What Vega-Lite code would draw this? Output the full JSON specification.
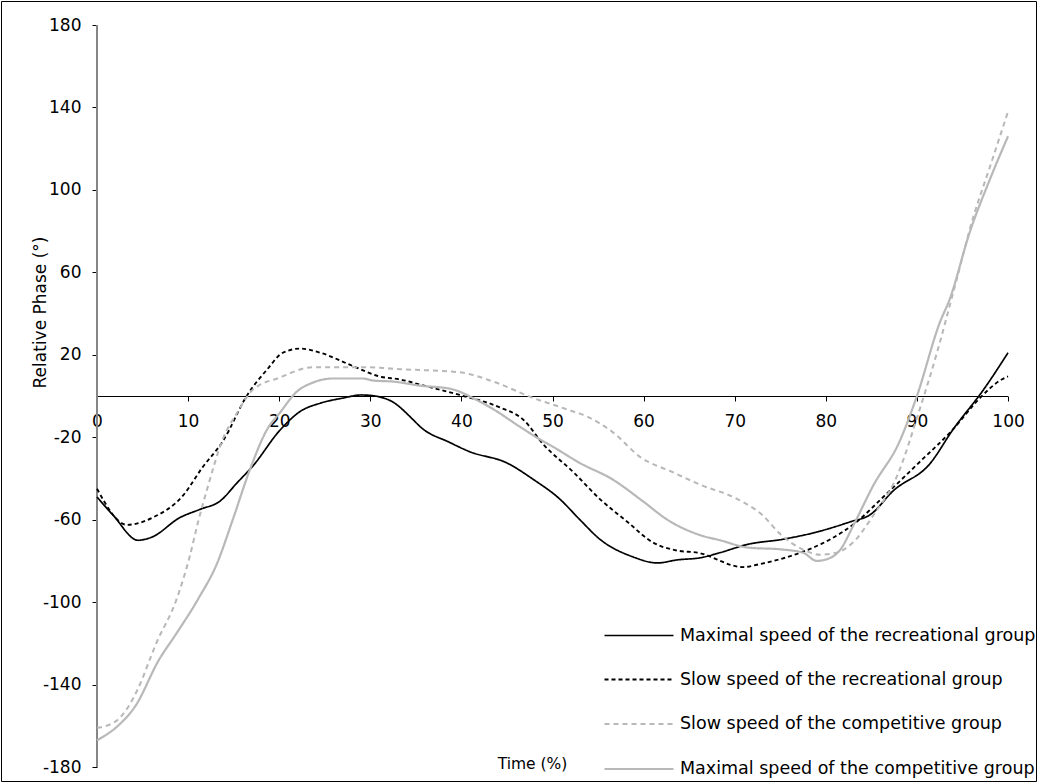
{
  "$schema": "https://vega.github.io/schema/vega-lite/v6.json",
  "width": 1035,
  "height": 780,
  "autosize": {"type": "none"},
  "padding": 1,
  "background": "white",
  "config": {
    "view": {"stroke": "black", "strokeWidth": 1},
    "font": "DejaVu Sans",
    "axis": {"labelFont": "DejaVu Sans", "titleFont": "DejaVu Sans", "labelColor": "black", "titleColor": "black", "titleFontWeight": "normal", "grid": false},
    "legend": {"labelFont": "DejaVu Sans"}
  },
  "datasets": {
    "curves": [
      {"t": 0, "v": -49, "s": "Maximal speed of the recreational group"},
      {"t": 1.8, "v": -58, "s": "Maximal speed of the recreational group"},
      {"t": 4.5, "v": -70, "s": "Maximal speed of the recreational group"},
      {"t": 6, "v": -68.5, "s": "Maximal speed of the recreational group"},
      {"t": 9.1, "v": -59, "s": "Maximal speed of the recreational group"},
      {"t": 11.3, "v": -55, "s": "Maximal speed of the recreational group"},
      {"t": 13.5, "v": -51, "s": "Maximal speed of the recreational group"},
      {"t": 15.4, "v": -42, "s": "Maximal speed of the recreational group"},
      {"t": 17.1, "v": -34, "s": "Maximal speed of the recreational group"},
      {"t": 20.1, "v": -16.5, "s": "Maximal speed of the recreational group"},
      {"t": 22.3, "v": -7.5, "s": "Maximal speed of the recreational group"},
      {"t": 24.5, "v": -3.5, "s": "Maximal speed of the recreational group"},
      {"t": 27, "v": -1, "s": "Maximal speed of the recreational group"},
      {"t": 29, "v": 0.5, "s": "Maximal speed of the recreational group"},
      {"t": 30.5, "v": 0, "s": "Maximal speed of the recreational group"},
      {"t": 32.5, "v": -3, "s": "Maximal speed of the recreational group"},
      {"t": 34.7, "v": -11.5, "s": "Maximal speed of the recreational group"},
      {"t": 35.5, "v": -15, "s": "Maximal speed of the recreational group"},
      {"t": 38.7, "v": -22.5, "s": "Maximal speed of the recreational group"},
      {"t": 40.9, "v": -27, "s": "Maximal speed of the recreational group"},
      {"t": 45, "v": -32.5, "s": "Maximal speed of the recreational group"},
      {"t": 47.9, "v": -40.5, "s": "Maximal speed of the recreational group"},
      {"t": 50.8, "v": -50, "s": "Maximal speed of the recreational group"},
      {"t": 53, "v": -60, "s": "Maximal speed of the recreational group"},
      {"t": 55.2, "v": -69.5, "s": "Maximal speed of the recreational group"},
      {"t": 58.8, "v": -78, "s": "Maximal speed of the recreational group"},
      {"t": 61.5, "v": -81, "s": "Maximal speed of the recreational group"},
      {"t": 63.7, "v": -79.5, "s": "Maximal speed of the recreational group"},
      {"t": 66.2, "v": -78.5, "s": "Maximal speed of the recreational group"},
      {"t": 68.4, "v": -76, "s": "Maximal speed of the recreational group"},
      {"t": 71.4, "v": -72, "s": "Maximal speed of the recreational group"},
      {"t": 75.3, "v": -69.5, "s": "Maximal speed of the recreational group"},
      {"t": 79, "v": -66, "s": "Maximal speed of the recreational group"},
      {"t": 82.7, "v": -61, "s": "Maximal speed of the recreational group"},
      {"t": 84.9, "v": -57.5, "s": "Maximal speed of the recreational group"},
      {"t": 87.4, "v": -46, "s": "Maximal speed of the recreational group"},
      {"t": 91.4, "v": -33, "s": "Maximal speed of the recreational group"},
      {"t": 94, "v": -16, "s": "Maximal speed of the recreational group"},
      {"t": 97.3, "v": 3, "s": "Maximal speed of the recreational group"},
      {"t": 100, "v": 21, "s": "Maximal speed of the recreational group"},

      {"t": 0, "v": -45, "s": "Slow  speed of the recreational group"},
      {"t": 3.3, "v": -62.5, "s": "Slow  speed of the recreational group"},
      {"t": 6.1, "v": -59, "s": "Slow  speed of the recreational group"},
      {"t": 9.4, "v": -48.5, "s": "Slow  speed of the recreational group"},
      {"t": 11.6, "v": -34.5, "s": "Slow  speed of the recreational group"},
      {"t": 13.8, "v": -22, "s": "Slow  speed of the recreational group"},
      {"t": 16.5, "v": 0.5, "s": "Slow  speed of the recreational group"},
      {"t": 18.7, "v": 13, "s": "Slow  speed of the recreational group"},
      {"t": 20.4, "v": 21, "s": "Slow  speed of the recreational group"},
      {"t": 22.3, "v": 23, "s": "Slow  speed of the recreational group"},
      {"t": 24.5, "v": 21, "s": "Slow  speed of the recreational group"},
      {"t": 28.1, "v": 14.5, "s": "Slow  speed of the recreational group"},
      {"t": 31, "v": 9.5, "s": "Slow  speed of the recreational group"},
      {"t": 33.3, "v": 8, "s": "Slow  speed of the recreational group"},
      {"t": 35.5, "v": 5.5, "s": "Slow  speed of the recreational group"},
      {"t": 39.8, "v": 0.5, "s": "Slow  speed of the recreational group"},
      {"t": 44.2, "v": -5.5, "s": "Slow  speed of the recreational group"},
      {"t": 46.8, "v": -11.5, "s": "Slow  speed of the recreational group"},
      {"t": 49, "v": -23.5, "s": "Slow  speed of the recreational group"},
      {"t": 52.3, "v": -37, "s": "Slow  speed of the recreational group"},
      {"t": 55.2, "v": -50, "s": "Slow  speed of the recreational group"},
      {"t": 58.2, "v": -61, "s": "Slow  speed of the recreational group"},
      {"t": 61, "v": -71, "s": "Slow  speed of the recreational group"},
      {"t": 63.7, "v": -75, "s": "Slow  speed of the recreational group"},
      {"t": 65.9, "v": -76, "s": "Slow  speed of the recreational group"},
      {"t": 70.9, "v": -83, "s": "Slow  speed of the recreational group"},
      {"t": 72.8, "v": -81.5, "s": "Slow  speed of the recreational group"},
      {"t": 77.2, "v": -76, "s": "Slow  speed of the recreational group"},
      {"t": 80.5, "v": -69.5, "s": "Slow  speed of the recreational group"},
      {"t": 83.4, "v": -61, "s": "Slow  speed of the recreational group"},
      {"t": 86.3, "v": -49, "s": "Slow  speed of the recreational group"},
      {"t": 90.3, "v": -32, "s": "Slow  speed of the recreational group"},
      {"t": 94, "v": -16, "s": "Slow  speed of the recreational group"},
      {"t": 96.9, "v": -1, "s": "Slow  speed of the recreational group"},
      {"t": 99.3, "v": 8, "s": "Slow  speed of the recreational group"},
      {"t": 100, "v": 9.5, "s": "Slow  speed of the recreational group"},

      {"t": 0, "v": -161, "s": "Slow speed of the competitive group"},
      {"t": 2, "v": -158, "s": "Slow speed of the competitive group"},
      {"t": 3.4, "v": -151, "s": "Slow speed of the competitive group"},
      {"t": 4.5, "v": -142, "s": "Slow speed of the competitive group"},
      {"t": 6.5, "v": -120, "s": "Slow speed of the competitive group"},
      {"t": 8.7, "v": -99, "s": "Slow speed of the competitive group"},
      {"t": 10.2, "v": -77.5, "s": "Slow speed of the competitive group"},
      {"t": 11.1, "v": -61, "s": "Slow speed of the competitive group"},
      {"t": 12.1, "v": -45, "s": "Slow speed of the competitive group"},
      {"t": 13.8, "v": -21, "s": "Slow speed of the competitive group"},
      {"t": 15.4, "v": -8, "s": "Slow speed of the competitive group"},
      {"t": 17.1, "v": 3, "s": "Slow speed of the competitive group"},
      {"t": 20.1, "v": 9, "s": "Slow speed of the competitive group"},
      {"t": 23.7, "v": 14, "s": "Slow speed of the competitive group"},
      {"t": 29.2, "v": 14, "s": "Slow speed of the competitive group"},
      {"t": 33.3, "v": 13, "s": "Slow speed of the competitive group"},
      {"t": 39.8, "v": 11.5, "s": "Slow speed of the competitive group"},
      {"t": 43.5, "v": 7, "s": "Slow speed of the competitive group"},
      {"t": 47.9, "v": -1, "s": "Slow speed of the competitive group"},
      {"t": 51.6, "v": -6.5, "s": "Slow speed of the competitive group"},
      {"t": 53.8, "v": -10, "s": "Slow speed of the competitive group"},
      {"t": 56.6, "v": -17.5, "s": "Slow speed of the competitive group"},
      {"t": 59.6, "v": -29.5, "s": "Slow speed of the competitive group"},
      {"t": 63.2, "v": -37, "s": "Slow speed of the competitive group"},
      {"t": 66.2, "v": -43, "s": "Slow speed of the competitive group"},
      {"t": 70.3, "v": -50, "s": "Slow speed of the competitive group"},
      {"t": 73.1, "v": -58, "s": "Slow speed of the competitive group"},
      {"t": 75, "v": -67, "s": "Slow speed of the competitive group"},
      {"t": 77.5, "v": -74.5, "s": "Slow speed of the competitive group"},
      {"t": 79.4, "v": -77, "s": "Slow speed of the competitive group"},
      {"t": 81.2, "v": -76, "s": "Slow speed of the competitive group"},
      {"t": 83, "v": -71, "s": "Slow speed of the competitive group"},
      {"t": 85.2, "v": -58, "s": "Slow speed of the competitive group"},
      {"t": 87.8, "v": -39, "s": "Slow speed of the competitive group"},
      {"t": 90.3, "v": -6.5, "s": "Slow speed of the competitive group"},
      {"t": 92.2, "v": 21, "s": "Slow speed of the competitive group"},
      {"t": 94, "v": 50.5, "s": "Slow speed of the competitive group"},
      {"t": 96.2, "v": 87, "s": "Slow speed of the competitive group"},
      {"t": 98, "v": 111, "s": "Slow speed of the competitive group"},
      {"t": 100, "v": 138, "s": "Slow speed of the competitive group"},

      {"t": 0, "v": -167, "s": "Maximal speed of the competitive group"},
      {"t": 2.3, "v": -160, "s": "Maximal speed of the competitive group"},
      {"t": 4.2, "v": -150.5, "s": "Maximal speed of the competitive group"},
      {"t": 6.8, "v": -128, "s": "Maximal speed of the competitive group"},
      {"t": 8.6, "v": -116, "s": "Maximal speed of the competitive group"},
      {"t": 11.1, "v": -98.5, "s": "Maximal speed of the competitive group"},
      {"t": 13.2, "v": -81, "s": "Maximal speed of the competitive group"},
      {"t": 14.9, "v": -60, "s": "Maximal speed of the competitive group"},
      {"t": 16.8, "v": -35.5, "s": "Maximal speed of the competitive group"},
      {"t": 18.7, "v": -16, "s": "Maximal speed of the competitive group"},
      {"t": 20.1, "v": -8, "s": "Maximal speed of the competitive group"},
      {"t": 21.9, "v": 2, "s": "Maximal speed of the competitive group"},
      {"t": 23.7, "v": 6.5, "s": "Maximal speed of the competitive group"},
      {"t": 25.9, "v": 8.5, "s": "Maximal speed of the competitive group"},
      {"t": 29.2, "v": 8.5, "s": "Maximal speed of the competitive group"},
      {"t": 30.3, "v": 7.5, "s": "Maximal speed of the competitive group"},
      {"t": 32.5, "v": 7, "s": "Maximal speed of the competitive group"},
      {"t": 35.5, "v": 5, "s": "Maximal speed of the competitive group"},
      {"t": 38.8, "v": 3.5, "s": "Maximal speed of the competitive group"},
      {"t": 41.7, "v": -2, "s": "Maximal speed of the competitive group"},
      {"t": 43.9, "v": -7.5, "s": "Maximal speed of the competitive group"},
      {"t": 46.1, "v": -14, "s": "Maximal speed of the competitive group"},
      {"t": 48.6, "v": -21, "s": "Maximal speed of the competitive group"},
      {"t": 50, "v": -24.5, "s": "Maximal speed of the competitive group"},
      {"t": 53, "v": -32.5, "s": "Maximal speed of the competitive group"},
      {"t": 56.6, "v": -40.5, "s": "Maximal speed of the competitive group"},
      {"t": 59.9, "v": -51, "s": "Maximal speed of the competitive group"},
      {"t": 62.6, "v": -60, "s": "Maximal speed of the competitive group"},
      {"t": 66.2, "v": -67.5, "s": "Maximal speed of the competitive group"},
      {"t": 68.4, "v": -70, "s": "Maximal speed of the competitive group"},
      {"t": 71.4, "v": -73.5, "s": "Maximal speed of the competitive group"},
      {"t": 75.3, "v": -74.5, "s": "Maximal speed of the competitive group"},
      {"t": 77.5, "v": -76, "s": "Maximal speed of the competitive group"},
      {"t": 79, "v": -80, "s": "Maximal speed of the competitive group"},
      {"t": 80.5, "v": -78.5, "s": "Maximal speed of the competitive group"},
      {"t": 81.6, "v": -74.5, "s": "Maximal speed of the competitive group"},
      {"t": 83, "v": -63, "s": "Maximal speed of the competitive group"},
      {"t": 85.2, "v": -43.5, "s": "Maximal speed of the competitive group"},
      {"t": 88.1, "v": -22, "s": "Maximal speed of the competitive group"},
      {"t": 90, "v": 0, "s": "Maximal speed of the competitive group"},
      {"t": 92.5, "v": 35.5, "s": "Maximal speed of the competitive group"},
      {"t": 93.6, "v": 47, "s": "Maximal speed of the competitive group"},
      {"t": 95.8, "v": 79.5, "s": "Maximal speed of the competitive group"},
      {"t": 98, "v": 105, "s": "Maximal speed of the competitive group"},
      {"t": 100, "v": 126, "s": "Maximal speed of the competitive group"}
    ]
  },
  "layer": [
    {
      "data": {"values": [{"t0": 0, "t1": 100, "v": 0}]},
      "mark": {"type": "rule", "color": "black", "strokeWidth": 1, "yOffset": 0.5},
      "encoding": {
        "x": {"field": "t0", "type": "quantitative", "scale": {"domain": [-10.538, 103.07], "nice": false, "zero": false}},
        "x2": {"field": "t1"},
        "y": {"field": "v", "type": "quantitative", "scale": {"domain": [-186.79, 191.645], "nice": false, "zero": false}}
      }
    },
    {
      "data": {"values": [{"t": 0, "v0": -180, "v1": 180}]},
      "mark": {"type": "rule", "color": "#868686", "strokeWidth": 2},
      "encoding": {
        "x": {"field": "t", "type": "quantitative"},
        "y": {"field": "v0", "type": "quantitative"},
        "y2": {"field": "v1"}
      }
    },
    {
      "data": {"name": "curves"},
      "mark": {"type": "line", "interpolate": "monotone"},
      "encoding": {
        "x": {
          "field": "t", "type": "quantitative",
          "axis": {
            "orient": "bottom", "offset": -385, "domain": false,
            "values": [0, 10, 20, 30, 40, 50, 60, 70, 80, 90, 100],
            "labelExpr": "'' + datum.value",
            "tickColor": "black", "tickSize": 5, "tickWidth": 1,
            "labelFontSize": 17, "labelPadding": 12, "labelFlush": false,
            "title": "Time (%)", "titleFontSize": 15.5, "titleX": 531, "titleY": 367,
            "titleAlign": "center", "titleBaseline": "middle"
          }
        },
        "y": {
          "field": "v", "type": "quantitative",
          "axis": {
            "orient": "left", "offset": -96, "domain": false,
            "values": [-180, -140, -100, -60, -20, 20, 60, 100, 140, 180],
            "labelExpr": "'' + datum.value",
            "tickColor": "black", "tickSize": 5, "tickWidth": 1,
            "labelFontSize": 17, "labelPadding": 11, "labelFlush": false,
            "title": "Relative Phase (°)", "titleFontSize": 17, "titleX": -57, "titleY": 311,
            "titleAngle": -90, "titleAlign": "center", "titleBaseline": "middle"
          }
        },
        "color": {
          "field": "s", "type": "nominal",
          "scale": {
            "domain": ["Maximal speed of the recreational group", "Slow  speed of the recreational group", "Slow speed of the competitive group", "Maximal speed of the competitive group"],
            "range": ["black", "black", "#b8b8b8", "#b8b8b8"]
          },
          "legend": {
            "orient": "none", "legendX": 602, "legendY": 599, "title": null,
            "symbolType": "stroke", "symbolSize": 4761, "symbolStrokeWidth": 2,
            "labelFontSize": 17.5, "labelColor": "black", "labelOffset": 5,
            "rowPadding": 0, "padding": 0, "labelLimit": 0
          }
        },
        "strokeDash": {
          "field": "s", "type": "nominal",
          "scale": {
            "domain": ["Maximal speed of the recreational group", "Slow  speed of the recreational group", "Slow speed of the competitive group", "Maximal speed of the competitive group"],
            "range": [[1, 0], [4, 3], [5, 4], [1, 0]]
          },
          "legend": null
        },
        "strokeWidth": {
          "field": "s", "type": "nominal",
          "scale": {
            "domain": ["Maximal speed of the recreational group", "Slow  speed of the recreational group", "Slow speed of the competitive group", "Maximal speed of the competitive group"],
            "range": [1.7, 2.2, 2, 2]
          },
          "legend": null
        }
      }
    }
  ]
}
